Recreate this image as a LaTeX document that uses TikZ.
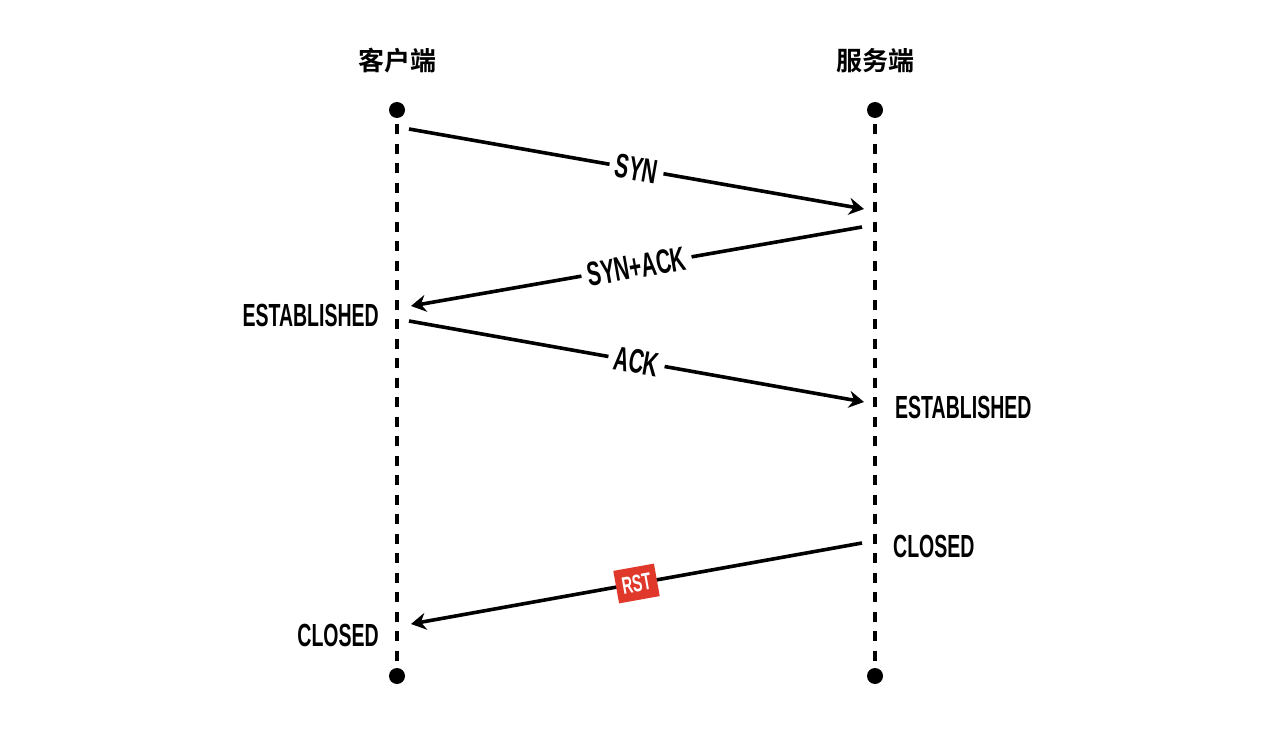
\documentclass[tikz,border=0pt]{standalone}
\usepackage{fontspec}
\setmainfont{Liberation Sans}
\newfontfamily\cjk{Noto Sans CJK SC}[BoldFont={Noto Sans CJK SC Bold}]
\newfontfamily\cond{Liberation Sans}[FakeStretch=0.61]
\usetikzlibrary{arrows.meta}
\definecolor{rstred}{HTML}{E0392B}
\tikzset{
  lifeline/.style={line width=4pt, dash pattern=on 10pt off 9.5pt},
  enddot/.style={circle, fill=black, minimum size=16pt, inner sep=0pt},
  msg/.style={line width=3.6pt, -{Stealth[length=15pt,width=17pt,inset=5pt]}},
  msglabel/.style={font=\cond\bfseries\fontsize{34}{34}\selectfont, fill=white, inner xsep=6pt, inner ysep=2pt, sloped, midway},
  state/.style={font=\cond\bfseries\fontsize{32}{32}\selectfont, inner sep=0pt},
  header/.style={font=\cjk\bfseries\fontsize{26}{26}\selectfont, inner sep=0pt},
  rstbox/.style={font=\cond\bfseries\fontsize{24}{24}\selectfont, fill=rstred, text=white, inner xsep=6pt, inner ysep=8pt, sloped, midway}
}
\begin{document}
\begin{tikzpicture}[x=1pt,y=-1pt]
\useasboundingbox (0,0) rectangle (1280,735);
\fill[white] (0,0) rectangle (1280,735);
% headers
\node[header] (hc) at (397,61) {客户端};
\node[header] (hs) at (875,61) {服务端};
% lifeline end dots
\node[enddot] (ct) at (397,110) {};
\node[enddot] (cb) at (397,676) {};
\node[enddot] (st) at (875,110) {};
\node[enddot] (sb) at (875,676) {};
\draw[lifeline] (ct.south) ++(0,6) -- (cb.north);
\draw[lifeline] (st.south) ++(0,6) -- (sb.north);
% message end points
\coordinate (a1) at (409,129);
\coordinate (b1) at (864,209);
\coordinate (a2) at (862,227);
\coordinate (b2) at (411,306);
\coordinate (a3) at (409,321);
\coordinate (b3) at (864,402);
\coordinate (a4) at (862,543);
\coordinate (b4) at (411,624);
% messages
\draw[msg] (a1) -- node[msglabel] {SYN} (b1);
\draw[msg] (a2) -- node[msglabel] {SYN+ACK} (b2);
\draw[msg] (a3) -- node[msglabel] {ACK} (b3);
\draw[msg] (a4) -- node[rstbox] {RST} (b4);
% states
\node[state, anchor=east] (e1) at (379,315) {ESTABLISHED};
\node[state, anchor=west] (e2) at (895,407) {ESTABLISHED};
\node[state, anchor=west] (c1) at (893,546) {CLOSED};
\node[state, anchor=east] (c2) at (379,635) {CLOSED};
\end{tikzpicture}
\end{document}
